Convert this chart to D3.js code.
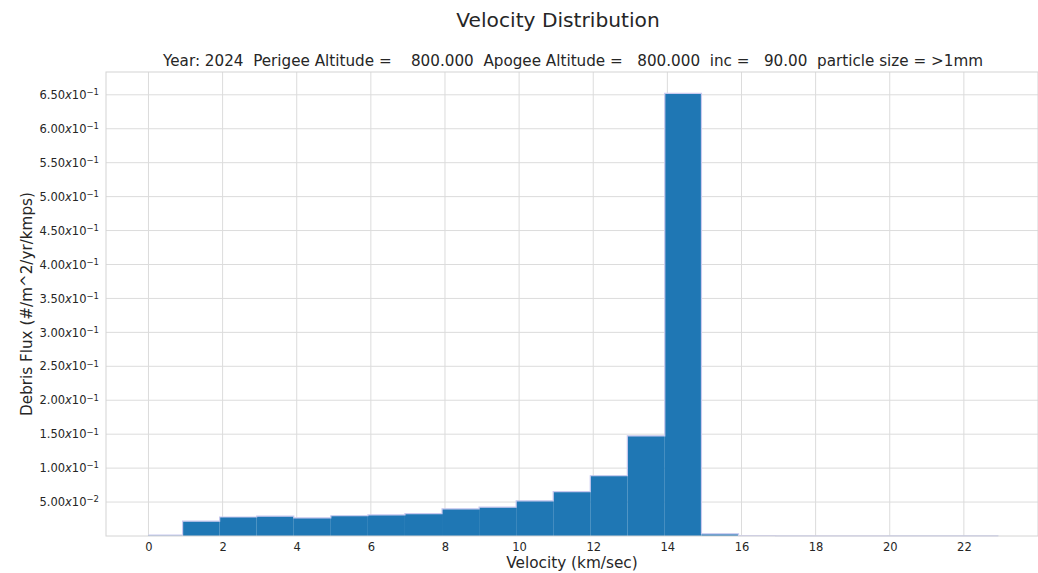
<!DOCTYPE html>
<html><head><meta charset="utf-8">
<script src="https://cdn.jsdelivr.net/npm/d3@7"></script>
<style>
body{margin:0;background:#fff;}
svg{font-family:"DejaVu Sans",sans-serif;}
</style></head>
<body><svg id="c" width="1038" height="573"></svg>
<script>
// bin left edges (km/sec) and right edges
const binStart = [0, 0.92, 1.92, 2.92, 3.92, 4.92, 5.92, 6.92, 7.92, 8.92, 9.92, 10.92, 11.92, 12.92, 13.93, 14.92, 15.92, 16.92, 17.92, 18.92, 19.92, 20.92, 21.92];
const binEnd   = [0.92, 1.92, 2.92, 3.92, 4.92, 5.92, 6.92, 7.92, 8.92, 9.92, 10.92, 11.92, 12.92, 13.93, 14.92, 15.92, 16.92, 17.92, 18.92, 19.92, 20.92, 21.92, 22.93];
const flux = [0.0012, 0.0218, 0.0280, 0.0292, 0.0266, 0.0298, 0.0310, 0.0330, 0.0400, 0.0425, 0.0518, 0.0655, 0.0888, 0.1475, 0.6520, 0.0032, 0.0006, 0.0002, 0.0001, 0.0001, 0.0003, 0.0003, 0.0003];
const xTicks = [0, 2, 4, 6, 8, 10, 12, 14, 16, 18, 20, 22];
const yTicks = [0.05, 0.10, 0.15, 0.20, 0.25, 0.30, 0.35, 0.40, 0.45, 0.50, 0.55, 0.60, 0.65];

const svg = d3.select("#c");
const L = 106, R = 1038, T = 72, B = 536;
const x = d3.scaleLinear().domain([-1.146, 24.0]).range([L, R]);
const y = d3.scaleLinear().domain([0, 0.6836]).range([B, T]);
const txt = "#262626";

// grid
const g = svg.append("g");
g.selectAll("line.vx").data(xTicks).join("line")
  .attr("x1", d => x(d)).attr("x2", d => x(d)).attr("y1", T).attr("y2", B)
  .attr("stroke", "#dcdcdc").attr("stroke-width", 1);
g.selectAll("line.hy").data(yTicks).join("line")
  .attr("x1", L).attr("x2", R).attr("y1", d => y(d)).attr("y2", d => y(d))
  .attr("stroke", "#dcdcdc").attr("stroke-width", 1);

// bars
const data = flux.map((v, i) => ({x0: binStart[i], x1: binEnd[i], v}));
svg.append("g").selectAll("rect").data(data).join("rect")
  .attr("x", d => x(d.x0)).attr("width", d => x(d.x1) - x(d.x0))
  .attr("y", d => y(d.v)).attr("height", d => y(0) - y(d.v))
  .attr("fill", "#1f77b4");
// outline (step) in light lavender
const stepPts = [];
data.forEach(d => { stepPts.push([d.x0, d.v]); stepPts.push([d.x1, d.v]); });
svg.append("path")
  .attr("d", d3.line().x(p => x(p[0])).y(p => y(p[1]))(stepPts))
  .attr("fill", "none").attr("stroke", "#c9c9ef").attr("stroke-width", 1.2);

// frame
svg.append("rect").attr("x", L).attr("y", T).attr("width", R - L).attr("height", B - T)
  .attr("fill", "none").attr("stroke", "#d4d4d4").attr("stroke-width", 1);

// axes using d3 axis
const xAxis = svg.append("g").attr("transform", `translate(0,${B})`)
  .call(d3.axisBottom(x).tickValues(xTicks).tickSize(0).tickPadding(7).tickFormat(d3.format("d")));
xAxis.select(".domain").remove();
xAxis.selectAll("text").attr("font-size", 11.5).attr("fill", txt).attr("font-family", "DejaVu Sans");

const yAxis = svg.append("g").attr("transform", `translate(${L},0)`)
  .call(d3.axisLeft(y).tickValues(yTicks).tickSize(0).tickPadding(7).tickFormat(""));
yAxis.select(".domain").remove();
yAxis.selectAll(".tick").each(function(d) {
  const e = Math.floor(Math.log10(d) + 1e-9);
  const m = (d / Math.pow(10, e)).toFixed(2);
  const t = d3.select(this).select("text").text(null)
    .attr("font-size", 11.5).attr("fill", txt).attr("font-family", "DejaVu Sans")
    .attr("x", -7).attr("dy", "0.32em").attr("text-anchor", "end");
  t.append("tspan").text(m);
  t.append("tspan").attr("font-style", "italic").text("x");
  t.append("tspan").text("10");
  t.append("tspan").attr("font-size", 8.5).attr("dy", "-0.45em").text("\u2212" + Math.abs(e));
});

// labels
svg.append("text").attr("x", 558).attr("y", 27).attr("text-anchor", "middle")
  .attr("font-size", 20.2).attr("fill", txt).text("Velocity Distribution");
svg.append("text").attr("x", 573).attr("y", 66).attr("text-anchor", "middle")
  .attr("font-size", 15.2).attr("fill", txt).attr("xml:space", "preserve")
  .text("Year: 2024  Perigee Altitude =    800.000  Apogee Altitude =   800.000  inc =   90.00  particle size = >1mm");
svg.append("text").attr("x", 572).attr("y", 568).attr("text-anchor", "middle")
  .attr("font-size", 15.3).attr("fill", txt).text("Velocity (km/sec)");
svg.append("text").attr("transform", "translate(32,304) rotate(-90)").attr("text-anchor", "middle")
  .attr("font-size", 15.2).attr("fill", txt).text("Debris Flux (#/m^2/yr/kmps)");
</script></body></html>
